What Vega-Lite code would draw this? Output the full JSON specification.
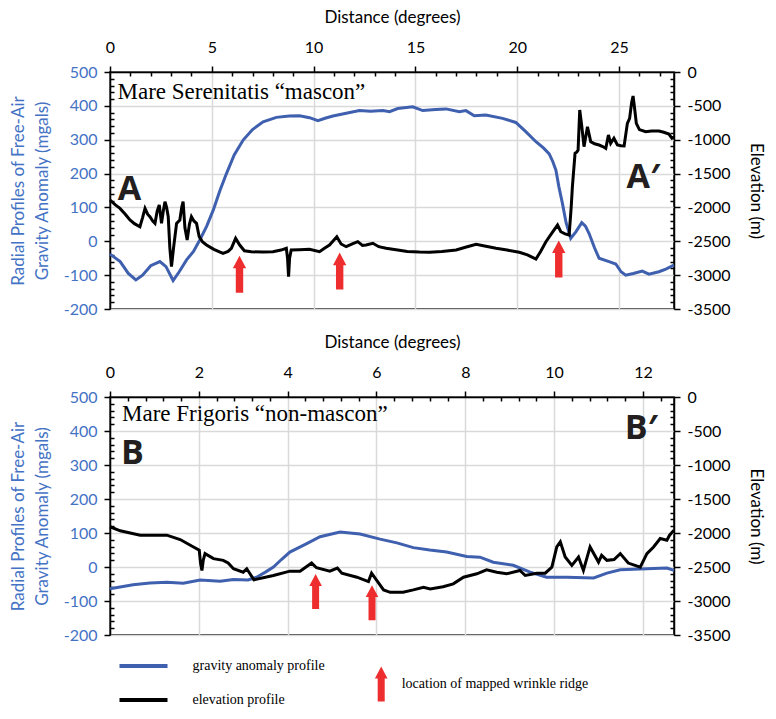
{
  "$schema": "https://vega.github.io/schema/vega-lite/v6.json",
  "background": "white",
  "padding": {"left": 8, "top": 7, "right": 5, "bottom": 5},
  "spacing": 14,
  "datasets": {
    "A_gravity": [
      {"d":0,"g":-38},{"d":0.5,"g":-60},{"d":0.9,"g":-95},{"d":1.27,"g":-114},{"d":1.6,"g":-100},{"d":2.0,"g":-72},{"d":2.45,"g":-60},{"d":2.75,"g":-75},{"d":3.1,"g":-116},{"d":3.4,"g":-90},{"d":3.76,"g":-55},{"d":4.1,"g":-30},{"d":4.41,"g":4},{"d":4.75,"g":45},{"d":5.07,"g":92},{"d":5.4,"g":150},{"d":5.72,"g":200},{"d":6.1,"g":255},{"d":6.54,"g":299},{"d":7.0,"g":330},{"d":7.52,"g":353},{"d":8.17,"g":366},{"d":8.8,"g":370},{"d":9.31,"g":371},{"d":9.8,"g":365},{"d":10.21,"g":356},{"d":10.6,"g":364},{"d":10.95,"g":370},{"d":11.6,"g":378},{"d":12.25,"g":386},{"d":12.8,"g":384},{"d":13.4,"g":386},{"d":13.73,"g":383},{"d":14.13,"g":392},{"d":14.87,"g":397},{"d":15.36,"g":386},{"d":16.0,"g":389},{"d":16.5,"g":391},{"d":17.16,"g":383},{"d":17.48,"g":386},{"d":17.89,"g":371},{"d":18.46,"g":373},{"d":19.28,"g":363},{"d":19.93,"g":351},{"d":20.42,"g":324},{"d":20.92,"g":294},{"d":21.3,"g":275},{"d":21.57,"g":258},{"d":21.75,"g":235},{"d":21.9,"g":210},{"d":22.05,"g":160},{"d":22.22,"g":112},{"d":22.4,"g":55},{"d":22.63,"g":9},{"d":22.88,"g":28},{"d":23.17,"g":55},{"d":23.35,"g":45},{"d":23.53,"g":23},{"d":23.8,"g":-20},{"d":24.02,"g":-50},{"d":24.51,"g":-60},{"d":24.84,"g":-67},{"d":25.1,"g":-90},{"d":25.33,"g":-100},{"d":25.7,"g":-95},{"d":26.14,"g":-88},{"d":26.47,"g":-97},{"d":26.96,"g":-90},{"d":27.3,"g":-82},{"d":27.7,"g":-70}
    ],
    "A_elev": [
      {"d":0,"e":-1890},{"d":0.25,"e":-1960},{"d":0.49,"e":-2014},{"d":0.75,"e":-2100},{"d":0.98,"e":-2186},{"d":1.2,"e":-2240},{"d":1.47,"e":-2285},{"d":1.6,"e":-2150},{"d":1.72,"e":-2014},{"d":1.85,"e":-2100},{"d":1.96,"e":-2137},{"d":2.1,"e":-2200},{"d":2.21,"e":-2235},{"d":2.32,"e":-2050},{"d":2.42,"e":-1964},{"d":2.53,"e":-2235},{"d":2.62,"e":-2050},{"d":2.7,"e":-1915},{"d":2.78,"e":-2000},{"d":2.86,"e":-2137},{"d":2.94,"e":-2600},{"d":3.02,"e":-2875},{"d":3.12,"e":-2600},{"d":3.27,"e":-2235},{"d":3.43,"e":-2186},{"d":3.52,"e":-2000},{"d":3.59,"e":-1915},{"d":3.68,"e":-2300},{"d":3.79,"e":-2481},{"d":3.9,"e":-2250},{"d":4.0,"e":-2137},{"d":4.12,"e":-2200},{"d":4.25,"e":-2235},{"d":4.38,"e":-2432},{"d":4.55,"e":-2510},{"d":4.74,"e":-2555},{"d":5.1,"e":-2620},{"d":5.55,"e":-2678},{"d":5.8,"e":-2650},{"d":5.96,"e":-2604},{"d":6.17,"e":-2457},{"d":6.37,"e":-2555},{"d":6.6,"e":-2640},{"d":6.94,"e":-2654},{"d":7.5,"e":-2660},{"d":8.0,"e":-2654},{"d":8.4,"e":-2630},{"d":8.66,"e":-2604},{"d":8.72,"e":-2750},{"d":8.77,"e":-3023},{"d":8.82,"e":-2750},{"d":8.9,"e":-2629},{"d":9.3,"e":-2625},{"d":9.8,"e":-2619},{"d":10.29,"e":-2654},{"d":10.55,"e":-2600},{"d":10.78,"e":-2555},{"d":11.0,"e":-2480},{"d":11.14,"e":-2432},{"d":11.35,"e":-2540},{"d":11.6,"e":-2580},{"d":11.9,"e":-2540},{"d":12.17,"e":-2506},{"d":12.4,"e":-2560},{"d":12.58,"e":-2555},{"d":12.91,"e":-2530},{"d":13.2,"e":-2580},{"d":13.56,"e":-2604},{"d":14.13,"e":-2629},{"d":14.6,"e":-2650},{"d":15.2,"e":-2660},{"d":15.69,"e":-2663},{"d":16.3,"e":-2650},{"d":17.0,"e":-2629},{"d":17.5,"e":-2585},{"d":17.98,"e":-2545},{"d":18.4,"e":-2570},{"d":18.96,"e":-2604},{"d":19.5,"e":-2630},{"d":20.1,"e":-2663},{"d":20.5,"e":-2700},{"d":20.92,"e":-2762},{"d":21.15,"e":-2650},{"d":21.41,"e":-2506},{"d":21.7,"e":-2380},{"d":21.98,"e":-2260},{"d":22.14,"e":-2359},{"d":22.35,"e":-2390},{"d":22.55,"e":-2407},{"d":22.65,"e":-2000},{"d":22.71,"e":-1694},{"d":22.84,"e":-1201},{"d":22.93,"e":-1180},{"d":22.99,"e":-1152},{"d":23.07,"e":-561},{"d":23.17,"e":-800},{"d":23.28,"e":-1103},{"d":23.45,"e":-808},{"d":23.61,"e":-1029},{"d":23.8,"e":-1060},{"d":24.02,"e":-1078},{"d":24.2,"e":-1100},{"d":24.35,"e":-1127},{"d":24.48,"e":-930},{"d":24.59,"e":-1053},{"d":24.75,"e":-979},{"d":24.92,"e":-1078},{"d":25.1,"e":-1090},{"d":25.25,"e":-1093},{"d":25.41,"e":-758},{"d":25.52,"e":-684},{"d":25.62,"e":-450},{"d":25.69,"e":-354},{"d":25.77,"e":-550},{"d":25.85,"e":-758},{"d":26.0,"e":-850},{"d":26.31,"e":-882},{"d":26.6,"e":-870},{"d":26.96,"e":-871},{"d":27.2,"e":-890},{"d":27.45,"e":-916},{"d":27.6,"e":-979},{"d":27.7,"e":-960}
    ],
    "A_ridges": [
      {"d":6.36,"g":-97},{"d":11.28,"g":-88},{"d":22.04,"g":-52}
    ],
    "B_gravity": [
      {"d":0,"g":-64},{"d":0.52,"g":-52},{"d":0.9,"g":-47},{"d":1.28,"g":-45},{"d":1.65,"g":-48},{"d":2.03,"g":-38},{"d":2.48,"g":-42},{"d":2.78,"g":-37},{"d":3.11,"g":-38},{"d":3.3,"g":-30},{"d":3.5,"g":-15},{"d":3.68,"g":0},{"d":3.86,"g":22},{"d":4.05,"g":44},{"d":4.43,"g":69},{"d":4.73,"g":89},{"d":5.18,"g":103},{"d":5.63,"g":97},{"d":6.08,"g":82},{"d":6.46,"g":71},{"d":6.83,"g":57},{"d":7.2,"g":50},{"d":7.58,"g":44},{"d":8.03,"g":31},{"d":8.33,"g":29},{"d":8.63,"g":14},{"d":9.08,"g":5},{"d":9.46,"g":-15},{"d":9.83,"g":-30},{"d":10.29,"g":-30},{"d":10.89,"g":-32},{"d":11.19,"g":-18},{"d":11.49,"g":-8},{"d":12.09,"g":-5},{"d":12.54,"g":-3},{"d":12.7,"g":-10}
    ],
    "B_elev": [
      {"d":0,"e":-1908},{"d":0.23,"e":-1968},{"d":0.68,"e":-2032},{"d":1.28,"e":-2032},{"d":1.58,"e":-2096},{"d":1.88,"e":-2205},{"d":2.01,"e":-2254},{"d":2.04,"e":-2450},{"d":2.07,"e":-2551},{"d":2.1,"e":-2400},{"d":2.14,"e":-2303},{"d":2.33,"e":-2377},{"d":2.55,"e":-2402},{"d":2.66,"e":-2442},{"d":2.78,"e":-2526},{"d":3.0,"e":-2576},{"d":3.08,"e":-2526},{"d":3.24,"e":-2689},{"d":3.68,"e":-2625},{"d":4.05,"e":-2561},{"d":4.28,"e":-2561},{"d":4.54,"e":-2442},{"d":4.65,"e":-2511},{"d":4.95,"e":-2561},{"d":5.12,"e":-2516},{"d":5.22,"e":-2591},{"d":5.56,"e":-2650},{"d":5.82,"e":-2714},{"d":5.89,"e":-2591},{"d":6.01,"e":-2699},{"d":6.16,"e":-2837},{"d":6.31,"e":-2872},{"d":6.6,"e":-2870},{"d":6.83,"e":-2837},{"d":7.06,"e":-2798},{"d":7.21,"e":-2822},{"d":7.5,"e":-2790},{"d":7.73,"e":-2748},{"d":7.96,"e":-2650},{"d":8.26,"e":-2600},{"d":8.48,"e":-2541},{"d":8.71,"e":-2576},{"d":8.93,"e":-2600},{"d":9.23,"e":-2551},{"d":9.35,"e":-2625},{"d":9.61,"e":-2591},{"d":9.8,"e":-2591},{"d":9.95,"e":-2502},{"d":10.06,"e":-2205},{"d":10.14,"e":-2131},{"d":10.25,"e":-2353},{"d":10.4,"e":-2477},{"d":10.55,"e":-2353},{"d":10.66,"e":-2551},{"d":10.81,"e":-2205},{"d":11.0,"e":-2428},{"d":11.07,"e":-2328},{"d":11.19,"e":-2402},{"d":11.35,"e":-2390},{"d":11.49,"e":-2303},{"d":11.67,"e":-2442},{"d":11.94,"e":-2502},{"d":12.09,"e":-2303},{"d":12.24,"e":-2205},{"d":12.39,"e":-2081},{"d":12.54,"e":-2106},{"d":12.6,"e":-2032},{"d":12.7,"e":-1958}
    ],
    "B_ridges": [
      {"d":4.63,"g":-72},{"d":5.9,"g":-105}
    ]
  },
  "vconcat": [
    {
      "width": 564,
      "height": 237,
      "layer": [
        {
          "data": {"name": "A_gravity"},
          "mark": {"type": "line", "strokeWidth": 3, "color": "#3f60ae"},
          "encoding": {
            "x": {
              "field": "d", "type": "quantitative",
              "scale": {"domain": [0, 27.7], "nice": false, "zero": false},
              "axis": {
                "orient": "top", "title": "Distance (degrees)",
                "values": [0,1,2,3,4,5,6,7,8,9,10,11,12,13,14,15,16,17,18,19,20,21,22,23,24,25,26,27],
                "labelExpr": "datum.value % 5 === 0 ? '' + datum.value : ''",
                "tickSize": {"condition": {"test": "datum.value % 5 === 0", "value": 6}, "value": -4},
                "gridOpacity": {"condition": {"test": "datum.value % 5 === 0", "value": 1}, "value": 0},
                "grid": true, "labelOverlap": false, "labelFlush": false, "labelPadding": 11, "titlePadding": 13
              }
            },
            "y": {
              "field": "g", "type": "quantitative",
              "scale": {"domain": [-200, 500], "nice": false, "zero": false},
              "axis": {
                "orient": "left", "title": ["Radial Profiles of Free-Air", "Gravity Anomaly (mgals)"],
                "titleColor": "#4472c4", "labelColor": "#4472c4",
                "values": [-200,-180,-160,-140,-120,-100,-80,-60,-40,-20,0,20,40,60,80,100,120,140,160,180,200,220,240,260,280,300,320,340,360,380,400,420,440,460,480,500],
                "labelExpr": "datum.value % 100 === 0 ? '' + datum.value : ''",
                "tickSize": {"condition": {"test": "datum.value % 100 === 0", "value": 6}, "value": -4},
                "gridOpacity": {"condition": {"test": "datum.value % 100 === 0", "value": 1}, "value": 0},
                "grid": true, "labelOverlap": false, "labelFlush": false, "labelPadding": 7, "titlePadding": 12, "titleLineHeight": 24
              }
            }
          }
        },
        {
          "data": {"name": "A_ridges"},
          "mark": {"type": "point", "filled": true, "size": 1369, "color": "#ee2e2e", "opacity": 1, "strokeWidth": 0, "shape": "M0,-1L0.36,-0.32L0.2,-0.32L0.2,1L-0.2,1L-0.2,-0.32L-0.36,-0.32Z"},
          "encoding": {
            "x": {"field": "d", "type": "quantitative", "scale": {"domain": [0, 27.7], "nice": false, "zero": false}, "axis": null},
            "y": {"field": "g", "type": "quantitative", "scale": {"domain": [-200, 500], "nice": false, "zero": false}, "axis": null}
          }
        },
        {
          "data": {"values": [{}]},
          "mark": {"type": "text", "text": "Mare Serenitatis “mascon”", "font": "Liberation Serif", "fontSize": 23, "align": "left", "baseline": "alphabetic", "color": "#000"},
          "encoding": {
            "x": {"datum": 0.37, "scale": {"domain": [0, 27.7], "nice": false, "zero": false}, "axis": null},
            "y": {"datum": 419, "scale": {"domain": [-200, 500], "nice": false, "zero": false}, "axis": null}
          }
        },
        {
          "data": {"values": [{}]},
          "mark": {"type": "text", "text": "A", "font": "Open Sans", "fontWeight": "bold", "fontSize": 34, "align": "left", "baseline": "alphabetic", "color": "#231f20"},
          "encoding": {
            "x": {"datum": 0.38, "scale": {"domain": [0, 27.7], "nice": false, "zero": false}, "axis": null},
            "y": {"datum": 121, "scale": {"domain": [-200, 500], "nice": false, "zero": false}, "axis": null}
          }
        },
        {
          "data": {"values": [{}]},
          "mark": {"type": "text", "text": "A′", "font": "Open Sans", "fontWeight": "bold", "fontSize": 34, "align": "left", "baseline": "alphabetic", "color": "#231f20"},
          "encoding": {
            "x": {"datum": 25.37, "scale": {"domain": [0, 27.7], "nice": false, "zero": false}, "axis": null},
            "y": {"datum": 158, "scale": {"domain": [-200, 500], "nice": false, "zero": false}, "axis": null}
          }
        },
        {
          "data": {"name": "A_elev"},
          "mark": {"type": "line", "strokeWidth": 3, "color": "#000"},
          "encoding": {
            "x": {"field": "d", "type": "quantitative", "scale": {"domain": [0, 27.7], "nice": false, "zero": false}, "axis": null},
            "y": {
              "field": "e", "type": "quantitative",
              "scale": {"domain": [-3500, 0], "nice": false, "zero": false},
              "axis": {
                "orient": "right", "title": "Elevation (m)", "grid": false,
                "values": [-3500,-3400,-3300,-3200,-3100,-3000,-2900,-2800,-2700,-2600,-2500,-2400,-2300,-2200,-2100,-2000,-1900,-1800,-1700,-1600,-1500,-1400,-1300,-1200,-1100,-1000,-900,-800,-700,-600,-500,-400,-300,-200,-100,0],
                "labelExpr": "datum.value % 500 === 0 ? '' + datum.value : ''",
                "tickSize": {"condition": {"test": "datum.value % 500 === 0", "value": 6}, "value": -4},
                "labelOverlap": false, "labelFlush": false, "labelPadding": 7, "titlePadding": 16
              }
            }
          }
        }
      ],
      "resolve": {"scale": {"x": "independent", "y": "independent"}}
    },
    {
      "width": 564,
      "height": 238,
      "layer": [
        {
          "data": {"name": "B_gravity"},
          "mark": {"type": "line", "strokeWidth": 3},
          "encoding": {
            "x": {
              "field": "d", "type": "quantitative",
              "scale": {"domain": [0, 12.7], "nice": false, "zero": false},
              "axis": {
                "orient": "top", "title": "Distance (degrees)",
                "values": [0,0.4,0.8,1.2,1.6,2,2.4,2.8,3.2,3.6,4,4.4,4.8,5.2,5.6,6,6.4,6.8,7.2,7.6,8,8.4,8.8,9.2,9.6,10,10.4,10.8,11.2,11.6,12,12.4],
                "labelExpr": "abs(datum.value / 2 - round(datum.value / 2)) < 0.001 ? '' + datum.value : ''",
                "tickSize": {"condition": {"test": "abs(datum.value / 2 - round(datum.value / 2)) < 0.001", "value": 6}, "value": -4},
                "gridOpacity": {"condition": {"test": "abs(datum.value / 2 - round(datum.value / 2)) < 0.001", "value": 1}, "value": 0},
                "grid": true, "labelOverlap": false, "labelFlush": false, "labelPadding": 11, "titlePadding": 13
              }
            },
            "y": {
              "field": "g", "type": "quantitative",
              "scale": {"domain": [-200, 500], "nice": false, "zero": false},
              "axis": {
                "orient": "left", "title": ["Radial Profiles of Free-Air", "Gravity Anomaly (mgals)"],
                "titleColor": "#4472c4", "labelColor": "#4472c4",
                "values": [-200,-180,-160,-140,-120,-100,-80,-60,-40,-20,0,20,40,60,80,100,120,140,160,180,200,220,240,260,280,300,320,340,360,380,400,420,440,460,480,500],
                "labelExpr": "datum.value % 100 === 0 ? '' + datum.value : ''",
                "tickSize": {"condition": {"test": "datum.value % 100 === 0", "value": 6}, "value": -4},
                "gridOpacity": {"condition": {"test": "datum.value % 100 === 0", "value": 1}, "value": 0},
                "grid": true, "labelOverlap": false, "labelFlush": false, "labelPadding": 7, "titlePadding": 12, "titleLineHeight": 24
              }
            },
            "color": {
              "datum": "gravity anomaly profile",
              "scale": {"domain": ["gravity anomaly profile", "elevation profile"], "range": ["#3f60ae", "#000000"]},
              "legend": {
                "orient": "none", "legendX": 7.5, "legendY": 579, "title": null,
                "symbolType": "stroke", "symbolStrokeWidth": 4, "symbolSize": 2304, "clipHeight": 30, "rowPadding": 4,
                "labelFont": "Liberation Serif", "labelFontSize": 14, "labelColor": "#000", "labelOffset": 23, "padding": 0
              }
            }
          }
        },
        {
          "data": {"name": "B_ridges"},
          "mark": {"type": "point", "filled": true, "size": 1225, "color": "#ee2e2e", "opacity": 1, "strokeWidth": 0},
          "encoding": {
            "x": {"field": "d", "type": "quantitative", "scale": {"domain": [0, 12.7], "nice": false, "zero": false}, "axis": null},
            "y": {"field": "g", "type": "quantitative", "scale": {"domain": [-200, 500], "nice": false, "zero": false}, "axis": null},
            "shape": {
              "datum": "location of mapped wrinkle ridge",
              "scale": {"domain": ["location of mapped wrinkle ridge"], "range": ["M0,-1L0.36,-0.32L0.2,-0.32L0.2,1L-0.2,1L-0.2,-0.32L-0.36,-0.32Z"]},
              "legend": {
                "orient": "none", "legendX": 253.7, "legendY": 594.5, "title": null, "symbolSize": 1225,
                "symbolFillColor": "#ee2e2e", "symbolStrokeWidth": 0,
                "labelFont": "Liberation Serif", "labelFontSize": 14, "labelColor": "#000", "labelOffset": 3, "padding": 0
              }
            }
          }
        },
        {
          "data": {"values": [{}]},
          "mark": {"type": "text", "text": "Mare Frigoris “non-mascon”", "font": "Liberation Serif", "fontSize": 23, "align": "left", "baseline": "alphabetic", "color": "#000"},
          "encoding": {
            "x": {"datum": 0.27, "scale": {"domain": [0, 12.7], "nice": false, "zero": false}, "axis": null},
            "y": {"datum": 430, "scale": {"domain": [-200, 500], "nice": false, "zero": false}, "axis": null}
          }
        },
        {
          "data": {"values": [{}]},
          "mark": {"type": "text", "text": "B", "font": "Open Sans", "fontWeight": "bold", "fontSize": 34, "align": "left", "baseline": "alphabetic", "color": "#231f20"},
          "encoding": {
            "x": {"datum": 0.25, "scale": {"domain": [0, 12.7], "nice": false, "zero": false}, "axis": null},
            "y": {"datum": 303, "scale": {"domain": [-200, 500], "nice": false, "zero": false}, "axis": null}
          }
        },
        {
          "data": {"values": [{}]},
          "mark": {"type": "text", "text": "B′", "font": "Open Sans", "fontWeight": "bold", "fontSize": 34, "align": "left", "baseline": "alphabetic", "color": "#231f20"},
          "encoding": {
            "x": {"datum": 11.59, "scale": {"domain": [0, 12.7], "nice": false, "zero": false}, "axis": null},
            "y": {"datum": 376, "scale": {"domain": [-200, 500], "nice": false, "zero": false}, "axis": null}
          }
        },
        {
          "data": {"name": "B_elev"},
          "mark": {"type": "line", "strokeWidth": 3},
          "encoding": {
            "x": {"field": "d", "type": "quantitative", "scale": {"domain": [0, 12.7], "nice": false, "zero": false}, "axis": null},
            "y": {
              "field": "e", "type": "quantitative",
              "scale": {"domain": [-3500, 0], "nice": false, "zero": false},
              "axis": {
                "orient": "right", "title": "Elevation (m)", "grid": false,
                "values": [-3500,-3400,-3300,-3200,-3100,-3000,-2900,-2800,-2700,-2600,-2500,-2400,-2300,-2200,-2100,-2000,-1900,-1800,-1700,-1600,-1500,-1400,-1300,-1200,-1100,-1000,-900,-800,-700,-600,-500,-400,-300,-200,-100,0],
                "labelExpr": "datum.value % 500 === 0 ? '' + datum.value : ''",
                "tickSize": {"condition": {"test": "datum.value % 500 === 0", "value": 6}, "value": -4},
                "labelOverlap": false, "labelFlush": false, "labelPadding": 7, "titlePadding": 16
              }
            },
            "color": {"datum": "elevation profile"}
          }
        }
      ],
      "resolve": {"scale": {"x": "independent", "y": "independent"}}
    }
  ],
  "config": {
    "view": {"stroke": "#000", "strokeWidth": 1.5},
    "axis": {
      "labelFont": "Lato", "labelFontSize": 16, "labelColor": "#000",
      "titleFont": "Lato", "titleFontSize": 17, "titleFontWeight": "normal", "titleColor": "#000",
      "domainColor": "#000", "domainWidth": 1.5, "tickColor": "#000", "tickWidth": 1.5,
      "gridColor": "#d9d9d9", "gridWidth": 1.5
    },
    "legend": {"labelLimit": 400}
  }
}
